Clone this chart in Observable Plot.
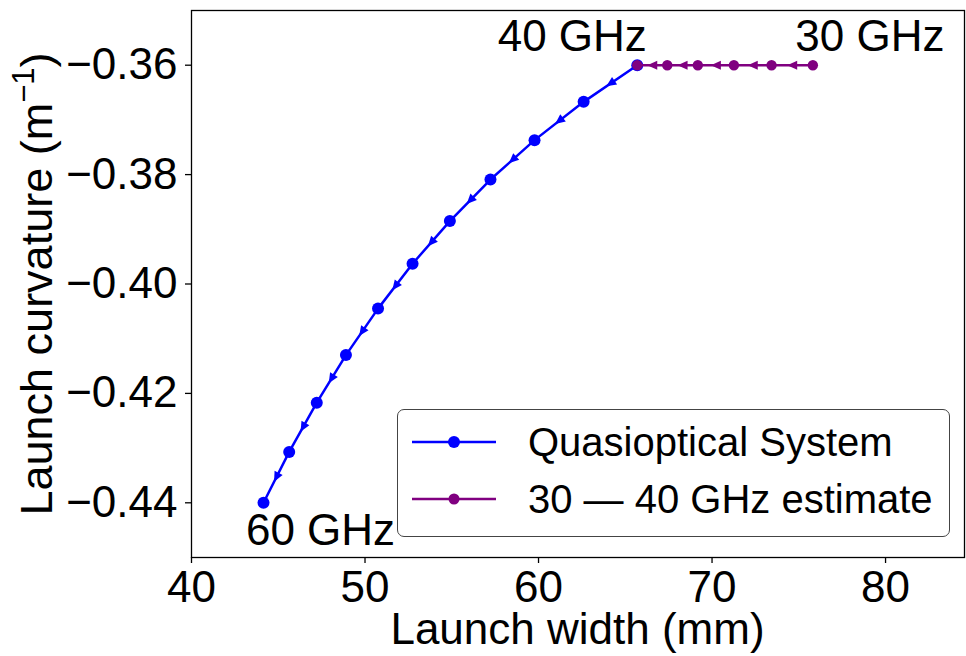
<!DOCTYPE html>
<html><head><meta charset="utf-8">
<script src="https://cdn.jsdelivr.net/npm/d3@7"></script>
<script src="https://cdn.jsdelivr.net/npm/@observablehq/plot@0.6"></script>
<style>
body{margin:0;background:#fff;font-family:"Liberation Sans",Arial,sans-serif;}
#wrap{position:relative;width:966px;height:656px;overflow:hidden;}
#legend{position:absolute;left:397px;top:409px;width:553px;height:128px;border:1.5px solid #444;border-radius:7px;background:rgba(255,255,255,0.85);box-sizing:border-box;}
.row{position:absolute;left:0;height:50px;display:flex;align-items:center;}
.row svg{margin-left:14px;}
.row span{margin-left:32px;font-size:40px;color:#000;white-space:nowrap;}
</style></head><body><div id="wrap"></div>
<script>
// Quasioptical system: 40 GHz -> 60 GHz (2 GHz steps)
const quasiWidth = [65.69, 62.60, 59.77, 57.23, 54.89, 52.74, 50.75, 48.90, 47.22, 45.63, 44.15];
const quasiCurv  = [-0.360, -0.3667, -0.3737, -0.3809, -0.3885, -0.3963, -0.4045, -0.4130, -0.4217, -0.4307, -0.4400];
// 30 -> 40 GHz estimate (2 GHz steps)
const estWidth = [75.81, 73.43, 71.26, 69.18, 67.42, 65.69];
const estCurv  = [-0.360, -0.360, -0.360, -0.360, -0.360, -0.360];
const seriesNames = ["Quasioptical System", "30 — 40 GHz estimate"];
const seriesColors = ["#0000ff", "#800080"];
const xTicks = [40, 50, 60, 70, 80];
const yTicks = [-0.44, -0.42, -0.40, -0.38, -0.36];
const labelsText = ["60 GHz", "40 GHz", "30 GHz"];
const xLabel = "Launch width (mm)";

const W = 966, H = 656, ML = 191, MR = 2, MT = 10, MB = 99;
const xDomain = [40, 84.55], yDomain = [-0.45, -0.35];
const kx = (W - ML - MR) / (xDomain[1] - xDomain[0]);
const ky = (H - MT - MB) / (yDomain[1] - yDomain[0]);

const quasi = quasiWidth.map((x, i) => ({x, y: quasiCurv[i]}));
const est = estWidth.map((x, i) => ({x, y: estCurv[i]}));

function mids(pts) {
  const out = [];
  for (let i = 0; i < pts.length - 1; i++) {
    const a = pts[i], b = pts[i + 1];
    out.push({
      x: (a.x + b.x) / 2, y: (a.y + b.y) / 2,
      angle: Math.atan2((b.x - a.x) * kx, (b.y - a.y) * ky) * 180 / Math.PI
    });
  }
  return out;
}
const head = {draw(ctx, l, r) { const w = l * 0.45; ctx.moveTo(0, -l); ctx.lineTo(w, 0); ctx.lineTo(-w, 0); ctx.closePath(); }};

const annots = [
  {x: quasi[quasi.length - 1].x, y: quasi[quasi.length - 1].y, text: labelsText[0], dx: 57, dy: 28},
  {x: est[est.length - 1].x, y: est[est.length - 1].y, text: labelsText[1], dx: -65, dy: -28},
  {x: est[0].x, y: est[0].y, text: labelsText[2], dx: 57, dy: -28}
];

const chart = Plot.plot({
  width: W, height: H,
  marginLeft: ML, marginRight: MR, marginTop: MT, marginBottom: MB,
  style: {fontFamily: "Liberation Sans, Arial, sans-serif", color: "#000", background: "#fff"},
  x: {domain: xDomain},
  y: {domain: yDomain},
  marks: [
    Plot.frame({stroke: "#000", strokeWidth: 1.3}),
    Plot.axisX({ticks: xTicks, tickSize: 6, tickPadding: 7, fontSize: 44, label: null, tickFormat: d3.format("d"), strokeWidth: 1.3}),
    Plot.axisY({ticks: yTicks, tickSize: 6, tickPadding: 8, fontSize: 44, label: null, tickFormat: d3.format(".2f"), strokeWidth: 1.3}),
    Plot.line(quasi, {x: "x", y: "y", stroke: seriesColors[0], strokeWidth: 2.5}),
    Plot.vector(mids(quasi), {x: "x", y: "y", rotate: "angle", length: 10, anchor: "middle", shape: head, fill: seriesColors[0], stroke: "none"}),
    Plot.dot(quasi, {x: "x", y: "y", r: 6, fill: seriesColors[0]}),
    Plot.line(est, {x: "x", y: "y", stroke: seriesColors[1], strokeWidth: 2.5}),
    Plot.vector(mids(est), {x: "x", y: "y", rotate: "angle", length: 10, anchor: "middle", shape: head, fill: seriesColors[1], stroke: "none"}),
    Plot.dot(est, {x: "x", y: "y", r: 5.2, fill: seriesColors[1]}),
    Plot.text(annots, {x: "x", y: "y", text: "text", fontSize: 44, fill: "#000", textAnchor: "middle"})
  ]
});
document.getElementById("wrap").appendChild(chart);

const svg = d3.select(chart);
// annotation offsets (baseline placement relative to the labelled point)
svg.selectAll("text").filter(function(){ return labelsText.includes(this.textContent); }).each(function(){
  const a = annots.find(d => d.text === this.textContent);
  const t = d3.select(this);
  t.attr("dy", null).attr("dominant-baseline", "alphabetic");
  const tr = t.attr("transform") || "";
  t.attr("transform", tr + ` translate(${a.dx},${a.dy})`);
});

// axis labels
svg.append("text").attr("x", (ML + W - MR) / 2).attr("y", 644).attr("text-anchor", "middle")
  .attr("font-size", 44).attr("fill", "#000").text(xLabel);
const yl = svg.append("text").attr("transform", "translate(52,284) rotate(-90)").attr("text-anchor", "middle")
  .attr("font-size", 45).attr("fill", "#000");
yl.append("tspan").text("Launch curvature (m");
yl.append("tspan").attr("font-size", 31).attr("dy", -18).text("−1");
yl.append("tspan").attr("dy", 18).text(")");

// legend
const leg = d3.select("#wrap").append("div").attr("id", "legend");
seriesNames.forEach((name, i) => {
  const row = leg.append("div").attr("class", "row").style("top", (i === 0 ? 7 : 64) + "px");
  const s = row.append("svg").attr("width", 84).attr("height", 20);
  s.append("line").attr("x1", 0).attr("x2", 84).attr("y1", 10).attr("y2", 10).attr("stroke", seriesColors[i]).attr("stroke-width", 2.5);
  s.append("circle").attr("cx", 42).attr("cy", 10).attr("r", i === 0 ? 6 : 5.5).attr("fill", seriesColors[i]);
  row.append("span").text(name);
});
</script></body></html>
